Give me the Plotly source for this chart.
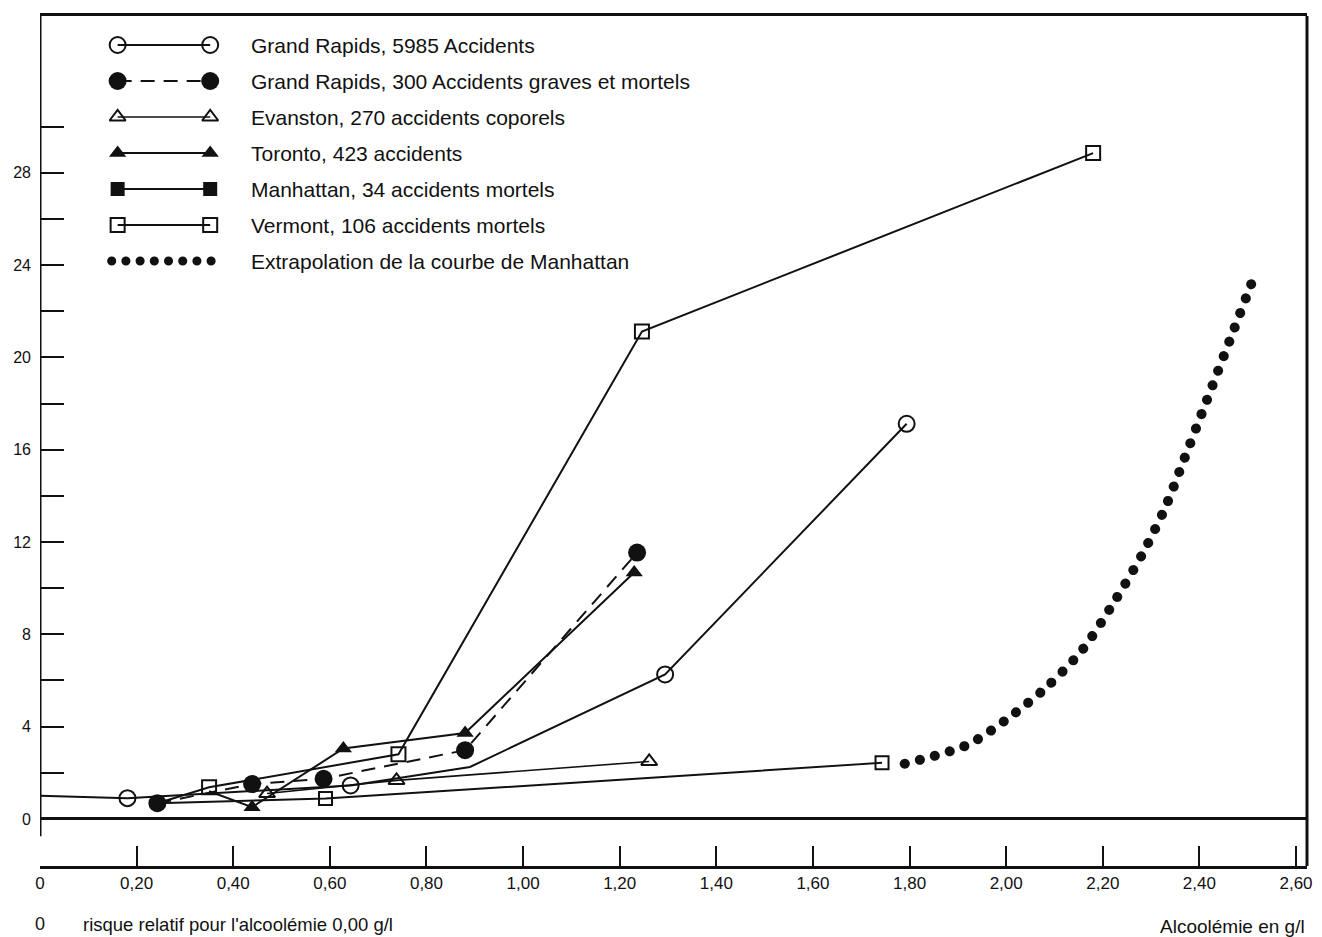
import plotly.graph_objects as go

# ---------------- data ----------------
x_tick_vals = [0, 0.2, 0.4, 0.6, 0.8, 1.0, 1.2, 1.4, 1.6, 1.8, 2.0, 2.2, 2.4, 2.6]
x_tick_text = ["0", "0,20", "0,40", "0,60", "0,80", "1,00", "1,20", "1,40",
               "1,60", "1,80", "2,00", "2,20", "2,40", "2,60"]
y_tick_vals = list(range(0, 31, 2))
y_tick_text = [str(v) if v % 4 == 0 else "" for v in y_tick_vals]

legend_labels = [
    "Grand Rapids, 5985 Accidents",
    "Grand Rapids, 300 Accidents graves et mortels",
    "Evanston, 270 accidents coporels",
    "Toronto, 423 accidents",
    "Manhattan, 34 accidents mortels",
    "Vermont, 106 accidents mortels",
    "Extrapolation de la courbe de Manhattan",
]

gr5985_x = [0.0, 0.181, 0.643, 0.89, 1.294, 1.794]
gr5985_y = [1.0, 0.90, 1.45, 2.25, 6.26, 17.12]
gr5985_marked = [0, 1, 1, 0, 1, 1]

gr300_x = [0.243, 0.439, 0.587, 0.88, 1.236]
gr300_y = [0.68, 1.51, 1.74, 2.98, 11.54]
gr300_marked = [1, 1, 1, 1, 1]

evanston_x = [0.47, 0.738, 1.261]
evanston_y = [1.10, 1.67, 2.49]
evanston_marked = [1, 1, 1]

toronto_x = [0.35, 0.439, 0.628, 0.88, 1.23]
toronto_y = [1.20, 0.51, 3.05, 3.72, 10.68]
toronto_marked = [0, 1, 1, 1, 1]

manhattan_x = [0.243, 0.591, 1.743]
manhattan_y = [0.68, 0.88, 2.43]
manhattan_marked = [0, 1, 1]

vermont_x = [0.243, 0.35, 0.742, 1.246, 2.18]
vermont_y = [0.68, 1.37, 2.80, 21.12, 28.85]
vermont_marked = [0, 1, 1, 1, 1]

extrap_x = [1.79, 1.92, 2.0, 2.083, 2.157, 2.227, 2.283, 2.328, 2.367, 2.414, 2.464, 2.513]
extrap_y = [2.39, 3.21, 4.30, 5.70, 7.31, 9.52, 11.52, 13.43, 15.51, 18.07, 20.80, 23.49]

# ---------------- layout geometry ----------------
W, H = 1322, 937
L, R, T, B = 40, 9, 16, 71
PLOT_W, PLOT_H = W - L - R, H - T - B
X_MAX = 2.6227
Y_MIN, Y_MAX = -2.04, 34.79
INK = "#111111"
FONT = "Liberation Sans, Arial, Helvetica, sans-serif"

DOT_DASH = "0.1px,15.4px"
DOT_DASH_LEG = "0.1px,14.1px"

styles = {
    "gr5985": dict(line=dict(color=INK, width=2),
                   marker=dict(symbol="circle-open", size=16, color=INK, line=dict(width=2))),
    "gr300": dict(line=dict(color=INK, width=2, dash="14px,9px"),
                  marker=dict(symbol="circle", size=18, color=INK)),
    "evanston": dict(line=dict(color=INK, width=1.6),
                     marker=dict(symbol="triangle-up-open", size=14, color=INK, line=dict(width=2))),
    "toronto": dict(line=dict(color=INK, width=2),
                    marker=dict(symbol="triangle-up", size=15, color=INK)),
    "manhattan": dict(line=dict(color=INK, width=2),
                      marker=dict(symbol="square-open", size=13, color=INK, line=dict(width=2))),
    "vermont": dict(line=dict(color=INK, width=2),
                    marker=dict(symbol="square-open", size=14, color=INK, line=dict(width=2))),
}
legend_marker_override = {
    "manhattan": dict(symbol="square", size=14, color=INK),
}

series = [
    ("gr5985", gr5985_x, gr5985_y, gr5985_marked),
    ("gr300", gr300_x, gr300_y, gr300_marked),
    ("evanston", evanston_x, evanston_y, evanston_marked),
    ("toronto", toronto_x, toronto_y, toronto_marked),
    ("manhattan", manhattan_x, manhattan_y, manhattan_marked),
    ("vermont", vermont_x, vermont_y, vermont_marked),
]

fig = go.Figure()

for key, xs, ys, marked in series:
    st = styles[key]
    mk = dict(st["marker"])
    mk["opacity"] = [1 if m else 0 for m in marked]
    fig.add_trace(go.Scatter(x=xs, y=ys, mode="lines+markers", line=st["line"],
                             marker=mk, showlegend=False, hoverinfo="skip",
                             cliponaxis=False))

# Manhattan extrapolation (dotted)
fig.add_trace(go.Scatter(x=extrap_x, y=extrap_y, mode="lines",
                         line=dict(color=INK, width=10, dash=DOT_DASH, shape="spline", smoothing=0.8),
                         showlegend=False, hoverinfo="skip"))

# ---------------- hand-drawn style legend (pixel coordinates on overlay axes) ----------------
LEG_X0, LEG_X1 = 118, 211
LEG_TEXT_X = 250
LEG_TOP, LEG_ROW = 45, 36
for i, key in enumerate(["gr5985", "gr300", "evanston", "toronto", "manhattan", "vermont"]):
    yy = LEG_TOP + i * LEG_ROW
    st = styles[key]
    mk = dict(st["marker"])
    if key in legend_marker_override:
        mk = dict(legend_marker_override[key])
    fig.add_trace(go.Scatter(x=[LEG_X0, LEG_X1], y=[yy, yy], xaxis="x2", yaxis="y2",
                             mode="lines+markers", line=st["line"], marker=mk,
                             showlegend=False, hoverinfo="skip", cliponaxis=False))
yy = LEG_TOP + 6 * LEG_ROW
fig.add_trace(go.Scatter(x=[112, 212], y=[yy, yy], xaxis="x2", yaxis="y2", mode="lines",
                         line=dict(color=INK, width=9, dash=DOT_DASH_LEG),
                         showlegend=False, hoverinfo="skip", cliponaxis=False))

annotations = []
for i, lab in enumerate(legend_labels):
    annotations.append(dict(x=LEG_TEXT_X, y=LEG_TOP + i * LEG_ROW, xref="x2", yref="y2",
                            text=lab, showarrow=False, xanchor="left", yanchor="middle",
                            font=dict(family=FONT, size=21, color=INK)))


def px_x(px):
    return (px - L) / PLOT_W


def px_y(py):
    return (H - B - py) / PLOT_H


annotations += [
    dict(x=px_x(40), y=px_y(924), xref="paper", yref="paper", text="0", showarrow=False,
         xanchor="center", yanchor="middle", font=dict(family=FONT, size=18, color=INK)),
    dict(x=px_x(81), y=px_y(924), xref="paper", yref="paper",
         text="risque relatif pour l'alcoolémie 0,00 g/l", showarrow=False,
         xanchor="left", yanchor="middle", font=dict(family=FONT, size=18.5, color=INK)),
    dict(x=px_x(1313), y=px_y(926), xref="paper", yref="paper", text="Alcoolémie en g/l",
         showarrow=False, xanchor="right", yanchor="middle",
         font=dict(family=FONT, size=19, color=INK)),
]

shapes = [
    # left frame (stops short of the x axis, as in the reference)
    dict(type="line", xref="x", yref="y", x0=0, x1=0, y0=-0.75, y1=Y_MAX,
         line=dict(color=INK, width=3)),
    # right frame
    dict(type="line", xref="paper", yref="paper", x0=1, x1=1, y0=0, y1=1,
         line=dict(color=INK, width=3)),
]

fig.update_layout(
    width=W, height=H,
    margin=dict(l=L, r=R, t=T, b=B, pad=0),
    paper_bgcolor="white", plot_bgcolor="white",
    showlegend=False,
    font=dict(family=FONT, color=INK),
    xaxis=dict(range=[0, X_MAX], tickvals=x_tick_vals, ticktext=x_tick_text,
               ticks="inside", ticklen=20, tickwidth=2, tickcolor=INK,
               showline=True, linewidth=3, linecolor=INK, mirror=True,
               showgrid=False, zeroline=False,
               tickfont=dict(family=FONT, size=17, color=INK)),
    yaxis=dict(range=[Y_MIN, Y_MAX], tickvals=y_tick_vals, ticktext=y_tick_text,
               ticks="inside", ticklen=24, tickwidth=2, tickcolor=INK,
               ticklabelstandoff=8,
               showline=False, showgrid=False,
               zeroline=True, zerolinewidth=3, zerolinecolor=INK,
               tickfont=dict(family=FONT, size=16, color=INK)),
    xaxis2=dict(range=[L, W - R], overlaying="x", visible=False, fixedrange=True),
    yaxis2=dict(range=[H - B, T], overlaying="y", visible=False, fixedrange=True),
    annotations=annotations,
    shapes=shapes,
)

post = """
document.documentElement.style.margin = '0';
document.documentElement.style.overflow = 'hidden';
document.body.style.margin = '0';
document.body.style.padding = '0';
document.body.style.overflow = 'hidden';
var gd = document.getElementById('{plot_id}');
function roundDots(){
  gd.querySelectorAll('path.js-line').forEach(function(p){
    var d = (p.style.strokeDasharray || p.getAttribute('stroke-dasharray') || '');
    if (d.indexOf('0.1') === 0) { p.style.strokeLinecap = 'round'; }
  });
}
roundDots();
gd.on('plotly_afterplot', roundDots);
"""

fig.write_html("out.html", post_script=post, config={"displayModeBar": False})
